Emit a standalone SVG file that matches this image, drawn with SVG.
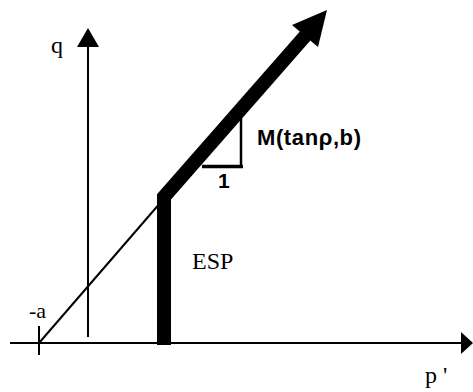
<svg xmlns="http://www.w3.org/2000/svg" width="473" height="392" viewBox="0 0 473 392">
<style>
.thin{stroke:#000;stroke-width:2;fill:none}
.serif{font-family:"Liberation Serif","Times New Roman",serif;fill:#000}
.sans{font-family:"Liberation Sans",Arial,sans-serif;font-weight:bold;fill:#000}
</style>
<rect width="473" height="392" fill="#fff"/>
<g id="axes">
<line class="thin" x1="88" y1="46" x2="88" y2="337"/>
<polygon points="88,28 77,47 99,47" fill="#000"/>
<line class="thin" x1="10" y1="343" x2="462" y2="343"/>
<polygon points="473,343 461,332 461,354" fill="#000"/>
<line class="thin" x1="39" y1="326" x2="39" y2="355"/>
</g>
<g id="connectors">
<line class="thin" x1="39" y1="343" x2="161" y2="202"/>
<polyline points="164,345 164,197 306,35" fill="none" stroke="#000" stroke-width="14" stroke-linejoin="miter"/>
<polygon points="327,10 292,25 318,47" fill="#000"/>
<line x1="241" y1="118" x2="241" y2="168" stroke="#000" stroke-width="2.5"/>
<line x1="202" y1="166.5" x2="243" y2="166.5" stroke="#000" stroke-width="3.5"/>
</g>
<g id="labels">
<text class="serif" x="51" y="53" font-size="24">q</text>
<text class="serif" x="29" y="318" font-size="22">-a</text>
<text class="serif" x="425" y="383" font-size="24">p '</text>
<text class="serif" x="192" y="269" font-size="24">ESP</text>
<text class="sans" x="257" y="145" font-size="22" textLength="104">M(tanρ,b)</text>
<text class="sans" x="218" y="188" font-size="21">1</text>
</g>
</svg>
